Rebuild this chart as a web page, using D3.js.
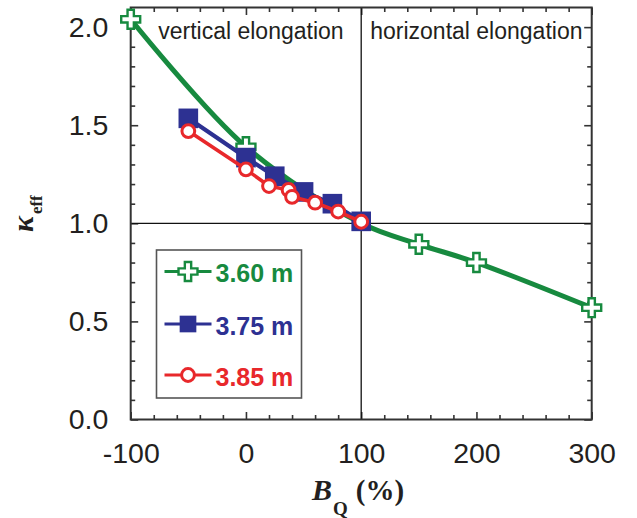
<!DOCTYPE html>
<html>
<head>
<meta charset="utf-8">
<script src="https://cdn.jsdelivr.net/npm/d3@7"></script>
<style>
  html, body { margin: 0; padding: 0; background: #fff; }
  svg { display: block; }
  .tick text { font-family: "Liberation Sans", Arial, sans-serif; font-size: 28.5px; fill: #231f20; }
</style>
</head>
<body>
<svg id="chart" width="637" height="518"></svg>
<script>
// Effective elongation versus quadrupole field ratio, for three major radii
const seriesNames = ["3.60 m", "3.75 m", "3.85 m"];
const seriesColors = ["#178a3f", "#2d3192", "#e8282b"];

const bq360 = [-100, 0, 100, 150, 200, 300];
const kappa360 = [2.04, 1.39, 1.0, 0.893, 0.80, 0.57];
// the point at 100 % lies under the other two series and carries no symbol
const marked360 = [true, true, false, true, true, true];

const bq375 = [-50, 0, 25, 50, 75, 100];
const kappa375 = [1.535, 1.335, 1.24, 1.16, 1.10, 1.01];

const bq385 = [-50, 0, 20, 37, 40, 60, 80, 100];
const kappa385 = [1.47, 1.275, 1.19, 1.17, 1.135, 1.105, 1.06, 1.008];

const xMajorTicks = [-100, 0, 100, 200, 300];
const yMajorTicks = [0.0, 0.5, 1.0, 1.5, 2.0];
const regionLabels = ["vertical elongation", "horizontal elongation"];

const W = 637, H = 518;
const margin = { top: 7.5, right: 45.3, bottom: 98.5, left: 130.7 };
const iw = W - margin.left - margin.right;
const ih = H - margin.top - margin.bottom;

const svg = d3.select("#chart");
const g = svg.append("g").attr("transform", `translate(${margin.left},${margin.top})`);

const x = d3.scaleLinear().domain([-100, 300]).range([0, iw]);
const y = d3.scaleLinear().domain([0, 2.1]).range([ih, 0]);

const xMinor = d3.range(-100, 301, 20).filter(v => !xMajorTicks.includes(v));
const yMinor = d3.range(0, 21, 1).map(v => v / 10).filter(v => !yMajorTicks.includes(v) && v <= 2.1);

// inward ticks on all four sides
function tickGroup(axis, transform) {
  const a = g.append("g").attr("transform", transform).call(axis);
  a.select(".domain").remove();
  a.selectAll(".tick line").attr("stroke", "#333").attr("stroke-width", 1.6);
  return a;
}
const fmtX = d => String(d);
const fmtY = d => d.toFixed(1);

tickGroup(d3.axisBottom(x).tickValues(xMajorTicks).tickSizeInner(-7.5).tickSizeOuter(0).tickPadding(23.6).tickFormat(fmtX), `translate(0,${ih})`);
tickGroup(d3.axisBottom(x).tickValues(xMinor).tickSizeInner(-4.5).tickSizeOuter(0).tickFormat(""), `translate(0,${ih})`);
tickGroup(d3.axisTop(x).tickValues(xMajorTicks).tickSizeInner(-7.5).tickSizeOuter(0).tickFormat(""), "translate(0,0)");
tickGroup(d3.axisTop(x).tickValues(xMinor).tickSizeInner(-4.5).tickSizeOuter(0).tickFormat(""), "translate(0,0)");
tickGroup(d3.axisLeft(y).tickValues(yMajorTicks).tickSizeInner(-7.5).tickSizeOuter(0).tickPadding(22.4).tickFormat(fmtY), "translate(0,0)");
tickGroup(d3.axisLeft(y).tickValues(yMinor).tickSizeInner(-4.5).tickSizeOuter(0).tickFormat(""), "translate(0,0)");
tickGroup(d3.axisRight(y).tickValues(yMajorTicks).tickSizeInner(-7.5).tickSizeOuter(0).tickFormat(""), `translate(${iw},0)`);
tickGroup(d3.axisRight(y).tickValues(yMinor).tickSizeInner(-4.5).tickSizeOuter(0).tickFormat(""), `translate(${iw},0)`);

// reference lines at kappa = 1 and B_Q = 100 %
g.append("line").attr("x1", 0).attr("x2", iw).attr("y1", y(1)).attr("y2", y(1))
  .attr("stroke", "#111").attr("stroke-width", 1.3);
g.append("line").attr("x1", x(100)).attr("x2", x(100)).attr("y1", 0).attr("y2", ih)
  .attr("stroke", "#111").attr("stroke-width", 1.3);

// region labels
const annFont = '"Liberation Sans", Arial, sans-serif';
g.append("text").attr("x", x(-100) + 27.5).attr("y", 31.8)
  .attr("font-family", annFont).attr("font-size", 23).attr("fill", "#231f20").text(regionLabels[0]);
g.append("text").attr("x", x(100) + 9).attr("y", 31.8)
  .attr("font-family", annFont).attr("font-size", 23).attr("fill", "#231f20").text(regionLabels[1]);

// frame
g.append("rect").attr("x", 0).attr("y", 0).attr("width", iw).attr("height", ih)
  .attr("fill", "none").attr("stroke", "#333").attr("stroke-width", 2);

// series
const data = [
  { name: seriesNames[0], color: seriesColors[0], pts: bq360.map((v, i) => [v, kappa360[i], marked360[i]]), curve: d3.curveCatmullRom.alpha(0.5), width: 5, marker: "cross" },
  { name: seriesNames[1], color: seriesColors[1], pts: bq375.map((v, i) => [v, kappa375[i], true]), curve: d3.curveLinear, width: 4.2, marker: "square" },
  { name: seriesNames[2], color: seriesColors[2], pts: bq385.map((v, i) => [v, kappa385[i], true]), curve: d3.curveLinear, width: 3.6, marker: "circle" }
];

function drawMarker(sel, s, scale) {
  if (s.marker === "cross") {
    sel.append("path").attr("d", d3.symbol().type(d3.symbolCross).size(200 * scale * scale)())
      .attr("fill", "#fff").attr("stroke", s.color).attr("stroke-width", 2.4).attr("stroke-linejoin", "miter");
  } else if (s.marker === "square") {
    sel.append("path").attr("d", d3.symbol().type(d3.symbolSquare).size(385 * scale * scale)())
      .attr("fill", s.color);
  } else {
    sel.append("circle").attr("r", 6.4 * scale).attr("fill", "#fff")
      .attr("stroke", s.color).attr("stroke-width", 3);
  }
}

data.forEach(s => {
  const line = d3.line().x(d => x(d[0])).y(d => y(d[1])).curve(s.curve);
  g.append("path").datum(s.pts).attr("d", line).attr("fill", "none")
    .attr("stroke", s.color).attr("stroke-width", s.width).attr("stroke-linejoin", "round");
  s.pts.filter(p => p[2]).forEach(p => {
    const m = g.append("g").attr("transform", `translate(${x(p[0])},${y(p[1])})`);
    drawMarker(m, s, 1);
  });
});

// legend
const leg = g.append("g").attr("transform", `translate(${156.5 - margin.left},${250 - margin.top})`);
leg.append("rect").attr("width", 145).attr("height", 148).attr("fill", "#fff")
  .attr("stroke", "#555").attr("stroke-width", 1.6);
const rowY = [21.5, 74, 125];
data.forEach((s, i) => {
  const r = leg.append("g").attr("transform", `translate(0,${rowY[i]})`);
  r.append("line").attr("x1", 8).attr("x2", 55).attr("y1", 0).attr("y2", 0)
    .attr("stroke", s.color).attr("stroke-width", 3);
  const m = r.append("g").attr("transform", "translate(31.5,0)");
  drawMarker(m, s, s.marker === "square" ? 0.85 : 1);
  r.append("text").attr("x", 59).attr("y", 10.5)
    .attr("font-family", annFont).attr("font-weight", "bold").attr("font-size", 25)
    .attr("fill", s.color).text(s.name);
});

// axis titles
const serif = '"Liberation Serif", "Times New Roman", serif';
const xt = svg.append("text").attr("x", 312).attr("y", 500).attr("font-family", serif).attr("fill", "#231f20");
xt.append("tspan").attr("font-weight", "bold").attr("font-style", "italic").attr("font-size", 30).text("B");
xt.append("tspan").attr("font-weight", "bold").attr("font-size", 19).attr("dy", 15).attr("dx", 1).text("Q");
xt.append("tspan").attr("font-weight", "bold").attr("font-size", 29).attr("dy", -15).attr("dx", 8).text("(%)");

const yt = svg.append("text").attr("transform", "translate(33,232) rotate(-90)")
  .attr("font-family", serif).attr("fill", "#231f20");
yt.append("tspan").attr("font-weight", "bold").attr("font-style", "italic").attr("font-size", 30).text("κ");
yt.append("tspan").attr("font-weight", "bold").attr("font-size", 17).attr("dy", 9).attr("dx", 2).text("eff");
</script>
</body>
</html>
